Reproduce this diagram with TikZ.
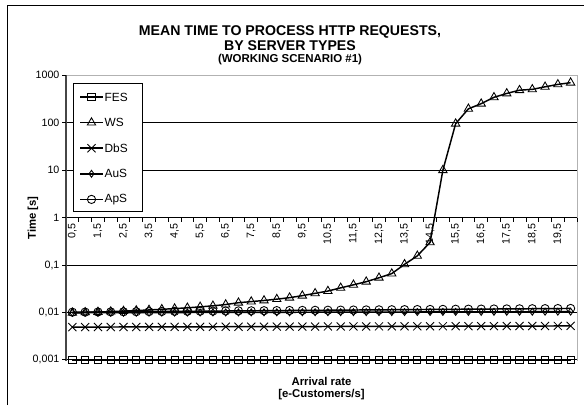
\documentclass[tikz,border=0pt]{standalone}
\usepackage{fontspec}
\setmainfont{Liberation Sans}
\usetikzlibrary{shapes.geometric,shapes.misc}

\begin{document}
\begin{tikzpicture}
        [x=0.75pt,y=-0.75pt,
         declare function={lx(\k)=66+12.775*(\k-0.5); ly(\v)=360.5-47.58*(log10(\v)+3);},
         gridline/.style={line width=0.6pt},
         plotframe/.style={draw=gray!60,line width=0.7pt},
         serie/.style={line width=1.1pt,line join=round},
         mk/.style={draw,line width=0.65pt,inner sep=0,fill=none},
         fesmark/.style={mk,rectangle,minimum size=5.4pt},
         wsmark/.style={mk,regular polygon,regular polygon sides=3,minimum size=7.2pt},
         dbsmark/.style={mk,cross out,minimum size=5.4pt},
         ausmark/.style={mk,diamond,aspect=0.75,minimum width=4pt,minimum height=5.5pt},
         apsmark/.style={mk,circle,minimum size=6.2pt},
         ticklbl/.style={font=\fontsize{8}{9}\selectfont,inner sep=1pt},
         every node/.style={font=\fontsize{8.3}{10}\selectfont}]

        \useasboundingbox (0,0) rectangle (584,405);

        % chart frame
        \draw[line width=0.7pt] (7,405) -- (7,5) -- (584,5);

        % titles
        \node[font=\fontsize{10.6}{12}\bfseries] (title1) at (290,32) {MEAN TIME TO PROCESS HTTP REQUESTS,};
        \node[font=\fontsize{10.6}{12}\bfseries] (title2) at (290,46) {BY SERVER TYPES};
        \node[font=\fontsize{8.6}{10}\bfseries] (title3) at (290,60) {(WORKING SCENARIO \#1)};
        \node[font=\fontsize{8.5}{10}\bfseries,rotate=90] (ytitle) at (33,218) {Time [s]};
        \node[font=\fontsize{8.5}{10}\bfseries] (xtitle1) at (321.5,381) {Arrival rate};
        \node[font=\fontsize{8.5}{10}\bfseries] (xtitle2) at (321.5,395) {[e-Customers/s]};

        % plot area
        \draw[plotframe] (66,75) -- (577,75) -- (577,360.5);
        \foreach \v in {100,10,0.1,0.01,0.001}
          \draw[gridline] (66,{ly(\v)}) -- (577,{ly(\v)});
        \draw[gridline] (66,{ly(1)}) -- (577,{ly(1)});
        \foreach \k in {0,...,40}
          \draw[gridline] ({66+12.775*\k},{ly(1)}) -- ++(0,4);
        \draw[draw=gray!55!black,line width=1.4pt] (66,75) -- (66,360.5);

        % value axis labels
        \foreach \v/\t [count=\i] in {1000/1000,100/100,10/10,1/1,0.1/{0,1},0.01/{0,01},0.001/{0,001}} {
          \draw[gridline] (62,{ly(\v)}) -- (66,{ly(\v)});
          \node[ticklbl,anchor=east] (yl\i) at (61,{ly(\v)}) {\t};
        }

        % category labels
        \foreach \i in {0,...,19}
          \node[ticklbl,rotate=90,anchor=east] (xl\i) at ({lx(2*\i+1)},{ly(1)+4}) {\i,5};

        % data
        \def\wsdata{0.0100,0.0102,0.0104,0.0106,0.0109,0.0112,0.0115,0.0119,0.0123,0.0128,
                    0.0134,0.0141,0.0150,0.0160,0.0170,0.0180,0.0193,0.0208,0.0230,0.0258,
                    0.0288,0.0329,0.0386,0.0452,0.0548,0.0656,0.105,0.157,0.304,10.0,
                    95,195,250,340,410,480,500,565,635,690}
        \foreach \v [count=\k] in \wsdata
          \coordinate (ws\k) at ({lx(\k)},{ly(\v)});
        \foreach \k in {1,...,40} {
          \coordinate (fes\k) at ({lx(\k)},{ly(0.001)});
          \coordinate (dbs\k) at ({lx(\k)},{ly(0.0050+0.0003*(\k-1)/39)});
          \coordinate (aus\k) at ({lx(\k)},{ly(0.0100+0.0006*(\k-1)/39)});
          \coordinate (aps\k) at ({lx(\k)},{ly(0.0103+0.0021*(\k-1)/39)});
        }

        \foreach \s in {fes,dbs,aus,aps,ws} {
          \draw[serie] (\s1) \foreach \k in {2,...,40} {-- (\s\k)};
          \foreach \k in {1,...,40}
            \node[\s mark] (\s m\k) at (\s\k) {};
        }

        % legend
        \node[draw,fill=white,line width=0.6pt,inner sep=0,minimum width=51.75pt,minimum height=96pt] (legend) at (107.5,147) {};
        \foreach \n/\s [count=\i] in {FES/fes,WS/ws,DbS/dbs,AuS/aus,ApS/aps} {
          \coordinate (lga\i) at (80,{97+25.6*(\i-1)});
          \coordinate (lgb\i) at (103,{97+25.6*(\i-1)});
          \draw[serie] (lga\i) -- (lgb\i);
          \node[\s mark] (lgm\i) at (91.5,{97+25.6*(\i-1)}) {};
          \node[anchor=west,inner sep=1pt,font=\fontsize{8.9}{10}\selectfont] (lgt\i) at (lgb\i) {\n};
        }
      \end{tikzpicture}
\end{document}
